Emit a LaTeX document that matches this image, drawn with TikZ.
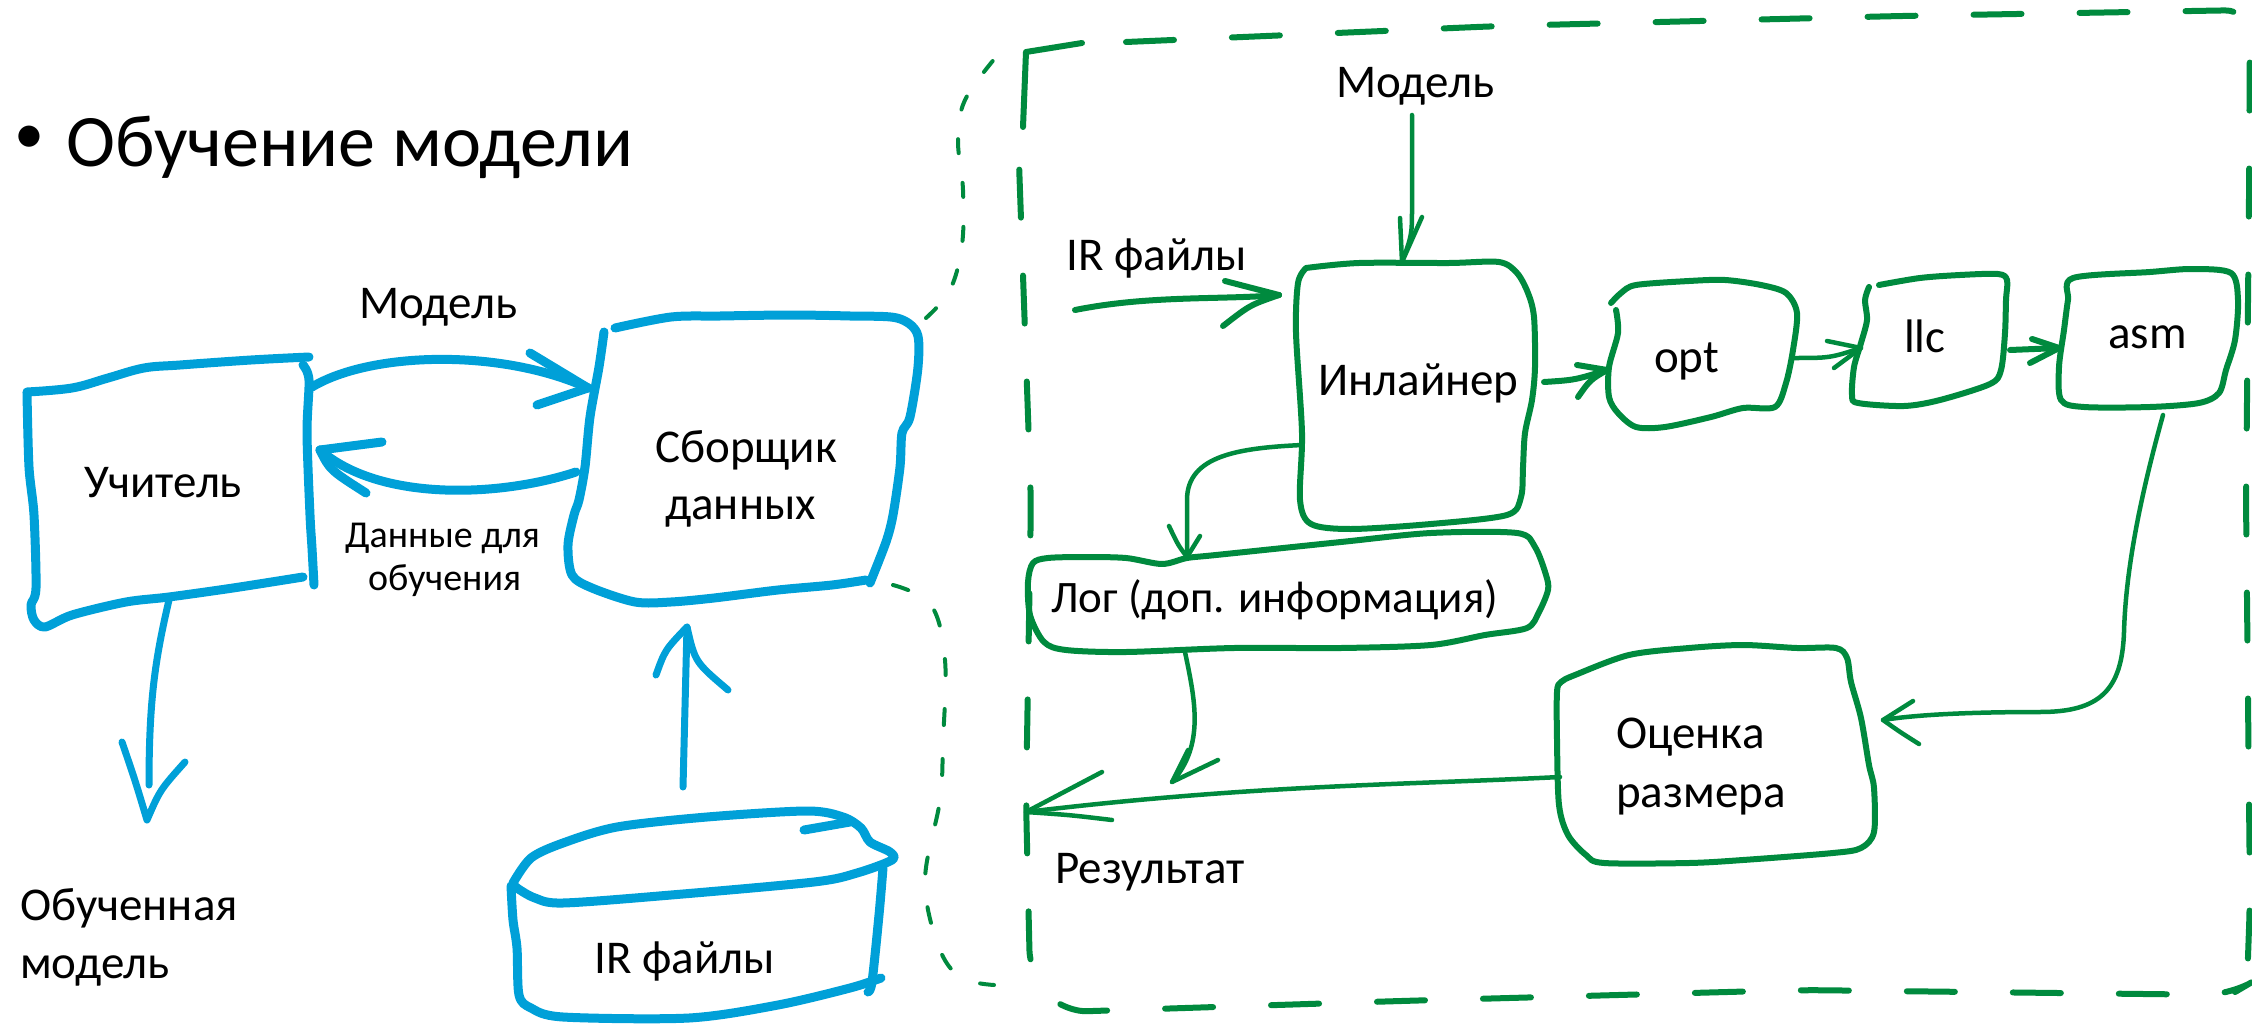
\documentclass[tikz,border=0pt]{standalone}
\usepackage{fontspec}
\setmainfont{Carlito}
\definecolor{inkblue}{RGB}{0,160,216}
\definecolor{inkgreen}{RGB}{0,138,62}
\newcommand{\ttlfnt}{\fontsize{74}{82}\selectfont}
\newcommand{\bulfnt}{\fontsize{60}{66}\selectfont}
\newcommand{\lblfnt}{\fontsize{47}{56}\selectfont}
\newcommand{\logfnt}{\fontsize{45}{54}\selectfont}
\newcommand{\smlfnt}{\fontsize{38}{44}\selectfont}
\tikzset{
  bluestroke/.style={draw=inkblue, line width=9pt, line cap=round, line join=round},
  bluethin/.style={draw=inkblue, line width=7pt, line cap=round, line join=round},
  greenstroke/.style={draw=inkgreen, line width=6pt, line cap=round, line join=round},
  greenthin/.style={draw=inkgreen, line width=4.5pt, line cap=round, line join=round},
  txt/.style={anchor=base west, inner sep=0pt, font=\lblfnt},
}
\begin{document}
\begin{tikzpicture}[x=1pt,y=-1pt]
\fill[white] (0,0) rectangle (2252,1030);
\useasboundingbox (0,0) rectangle (2252,1030);

% ---------------- title ----------------
\node[inner sep=0pt,font=\bulfnt] (bullet) at (29,140) {•};
\node[txt,font=\ttlfnt] (title) at (66,167) {Обучение модели};

% ---------------- Учитель ----------------
\draw[bluestroke] plot[smooth,tension=0.6] coordinates {(27,392) (72,388) (108,378) (144,368) (180,365) (251,360) (309,357)};
\draw[bluestroke] plot[smooth,tension=0.5] coordinates {(27,393) (29,467) (34,515) (36,588) (31,605) (34,620) (45,627) (72,615) (126,602) (169,597) (233,588) (303,577)};
\draw[bluestroke] plot[smooth,tension=0.5] coordinates {(303,365) (309,380) (307,433) (310,515) (312,548) (314,585)};
\node[txt] (uchitel) at (84,497) {Учитель};

% ---------------- Сборщик данных ----------------
\draw[bluestroke] plot[smooth,tension=0.5] coordinates {(615,328) (671,317) (720,316) (790,315) (850,316) (897,318) (917,333) (918,367) (910,417) (902,433) (900,467) (893,515) (886,542) (870,583)};
\draw[bluestroke] plot[smooth,tension=0.5] coordinates {(866,580) (832,585) (778,590) (714,598) (671,602) (635,602) (592,588) (572,575) (568,545) (574,515) (579,500) (585,467) (590,417) (599,367) (604,332)};
\node[txt] (sb1) at (655,462) {Сборщик};
\node[txt] (sb2) at (665,519) {данных};

% ---------------- blue connectors ----------------
\coordinate (uchR) at (312,387);
\coordinate (sbL) at (588,388);
\draw[bluestroke] (uchR) .. controls (370,352) and (500,348) .. (sbL);
\draw[bluestroke] (sbL) -- ++(-58,-35);
\draw[bluestroke] (sbL) -- ++(-51,17);
\node[txt] (model1) at (359,318) {Модель};

\coordinate (sbL2) at (576,472);
\coordinate (uchR2) at (320,450);
\draw[bluestroke] (sbL2) .. controls (500,497) and (380,502) .. (uchR2);
\draw[bluestroke] (uchR2) -- ++(62,-8);
\draw[bluestroke] (uchR2) .. controls (330,470) .. ++(46,43);
\node[txt,font=\smlfnt] (dan1) at (345,547) {Данные для};
\node[txt,font=\smlfnt] (dan2) at (368,590) {обучения};

\coordinate (uchB) at (169,600);
\coordinate (trainedT) at (147,820);
\draw[bluethin] (uchB) .. controls (155,660) and (149,700) .. (149,785);
\draw[bluethin] (122,742) .. controls (135,780) .. (trainedT) .. controls (160,790) .. (185,762);
\node[txt] (obuch1) at (20,920) {Обученная};
\node[txt] (obuch2) at (20,978) {модель};

\coordinate (cylT) at (683,787);
\coordinate (sbB) at (687,627);
\draw[bluethin] (cylT) -- (sbB);
\draw[bluethin] (656,675) .. controls (665,650) .. (sbB) .. controls (695,662) .. (728,690);

% ---------------- cylinder ----------------
\draw[bluestroke] plot[smooth,tension=0.5] coordinates {(513,883) (531,858) (563,843) (617,827) (707,817) (807,811) (843,817) (861,828) (870,842) (890,852) (892,860) (857,873) (814,882) (671,895) (563,903) (535,898) (517,888) (513,883)};
\draw[bluestroke] (804,830) -- (850,822);
\draw[bluestroke] plot[smooth,tension=0.5] coordinates {(511,886) (513,920) (517,948) (519,995) (531,1008) (563,1017) (689,1018) (778,1005) (850,988) (881,978)};
\draw[bluestroke] plot[smooth,tension=0.5] coordinates {(883,868) (879,915) (872,982) (868,992)};
\node[txt] (irf) at (594,973) {IR файлы};

% ---------------- thin dashed zoom lines ----------------
\draw[draw=inkgreen, line width=4pt, line cap=round, dash pattern=on 14pt off 30pt]
  plot[smooth,tension=0.6] coordinates {(926,318) (950,290) (962,245) (963,190) (958,140) (965,100) (996,57)};
\draw[draw=inkgreen, line width=4pt, line cap=round, dash pattern=on 16pt off 34pt]
  plot[smooth,tension=0.6] coordinates {(893,585) (931,605) (945,660) (943,742) (940,800) (925,880) (938,945) (960,977) (994,985)};

% ---------------- big dashed frame ----------------
\draw[greenstroke] (1023,127) -- (1026,52) -- (1082,43);
\draw[greenstroke, dash pattern=on 48pt off 58pt, rounded corners=25pt]
  (1126,42) -- (1500,26) -- (1900,16) -- (2250,10) -- (2249,200) -- (2246,500) -- (2250,900) -- (2247,985) -- (2230,995)
  -- (1800,990) -- (1400,1001) -- (1062,1012) -- (1030,975) -- (1026,800) -- (1031,500) -- (1019,163);

% ---------------- Инлайнер ----------------
\draw[greenstroke] plot[smooth,tension=0.5] coordinates {(1306,268) (1359,263) (1449,263) (1499,262) (1517,273) (1528,293) (1534,317) (1535,367) (1532,400) (1525,433) (1523,467) (1521,497) (1507,515) (1431,524) (1351,529) (1311,524) (1300,500) (1302,433) (1296,333) (1298,283) (1306,268)};
\node[txt] (inl) at (1318,395) {Инлайнер};

% ---------------- opt ----------------
\draw[greenstroke] plot[smooth,tension=0.5] coordinates {(1611,303) (1621,293) (1636,285) (1689,281) (1725,280) (1761,285) (1786,293) (1797,313) (1793,350) (1786,383) (1775,407) (1743,408) (1711,417) (1665,427) (1636,427) (1618,413) (1609,397) (1609,367) (1618,333) (1616,310)};
\node[txt] (opt) at (1654,372) {opt};

% ---------------- llc ----------------
\draw[greenstroke] plot[smooth,tension=0.5] coordinates {(1879,285) (1920,278) (1960,275) (1998,274) (2007,280) (2006,300) (2005,333) (2001,370) (1990,384) (1940,400) (1904,406) (1858,403) (1852,395) (1854,367) (1861,343) (1867,320) (1865,300) (1869,287)};
\node[txt] (llc) at (1904,352) {llc};

% ---------------- asm ----------------
\draw[greenstroke] plot[smooth cycle,tension=0.5] coordinates {(2073,278) (2150,272) (2192,269) (2231,273) (2238,300) (2235,340) (2226,370) (2219,393) (2199,403) (2150,407) (2084,407) (2061,400) (2059,367) (2064,330) (2068,300)};
\node[txt] (asm) at (2108,348) {asm};

% ---------------- Лог ----------------
\draw[greenstroke] plot[smooth cycle,tension=0.5] coordinates {(1048,558) (1084,557) (1126,558) (1162,564) (1187,558) (1216,555) (1341,542) (1431,533) (1517,533) (1535,547) (1546,575) (1548,590) (1539,612) (1527,628) (1485,635) (1431,645) (1341,648) (1234,648) (1126,652) (1066,650) (1044,642) (1030,615) (1028,582) (1033,563)};
\node[txt,font=\logfnt] (log) at (1051,612) {Лог (доп. информация)};

% ---------------- Оценка размера ----------------
\draw[greenstroke] plot[smooth cycle,tension=0.5] coordinates {(1561,682) (1575,675) (1629,655) (1689,648) (1743,645) (1797,648) (1836,648) (1847,658) (1851,682) (1861,718) (1869,765) (1874,788) (1874,832) (1861,848) (1833,853) (1743,860) (1689,863) (1604,863) (1586,855) (1568,835) (1559,805) (1557,740) (1557,692)};
\node[txt] (ots1) at (1616,748) {Оценка};
\node[txt] (ots2) at (1616,807) {размера};

\node[txt] (res) at (1055,883) {Результат};
\node[txt] (irlbl) at (1066,270) {IR файлы};
\node[txt] (model2) at (1336,98) {Модель};

% ---------------- green connectors ----------------
\coordinate (irS) at (1075,310);
\coordinate (inlL) at (1279,295);
\draw[greenstroke] (irS) .. controls (1150,295) and (1220,300) .. (inlL);
\draw[greenstroke] (inlL) -- ++(-54,-14);
\draw[greenstroke] (inlL) .. controls (1250,305) .. ++(-56,31);

\coordinate (modS) at (1412,115);
\coordinate (inlT) at (1402,262);
\draw[greenthin] (modS) -- (1412,205) .. controls (1412,235) .. (inlT);
\draw[greenthin] (1400,218) -- (inlT) -- (1422,217);

\coordinate (inlR) at (1544,382);
\coordinate (optL) at (1607,370);
\draw[greenstroke] (inlR) .. controls (1575,380) .. (optL);
\draw[greenstroke] (1577,365) -- (optL) .. controls (1590,380) .. (1578,397);

\coordinate (optR) at (1793,358);
\coordinate (llcL) at (1861,348);
\draw[greenthin] (optR) .. controls (1830,358) .. (llcL);
\draw[greenthin] (1827,341) -- (llcL) -- (1834,368);

\coordinate (llcR) at (2010,350);
\coordinate (asmL) at (2059,348);
\draw[greenstroke] (llcR) -- (asmL);
\draw[greenstroke] (2032,339) -- (asmL) -- (2030,363);

\coordinate (asmB) at (2163,415);
\coordinate (otsR) at (1883,720);
\draw[greenthin] (asmB) .. controls (2145,480) and (2126,560) .. (2124,632) .. controls (2122,690) and (2100,712) .. (2040,712) .. controls (1980,712) and (1920,714) .. (otsR);
\draw[greenthin] (1913,701) -- (otsR) .. controls (1900,732) .. (1919,744);

\coordinate (inlB) at (1302,445);
\coordinate (logT) at (1187,557);
\draw[greenthin] (inlB) .. controls (1240,448) and (1187,455) .. (1187,500) -- (logT);
\draw[greenthin] (1169,526) .. controls (1178,545) .. (logT) -- (1200,536);

\coordinate (logB) at (1185,652);
\coordinate (resT) at (1172,782);
\draw[greenthin] (logB) .. controls (1195,700) and (1205,745) .. (resT);
\draw[greenthin] (1188,750) -- (resT) -- (1218,760);

\coordinate (otsL) at (1560,777);
\coordinate (resL) at (1026,812);
\draw[greenthin] (otsL) .. controls (1400,785) and (1250,785) .. (resL);
\draw[greenthin] (1102,772) -- (resL) .. controls (1070,815) .. (1112,820);
\end{tikzpicture}
\end{document}
